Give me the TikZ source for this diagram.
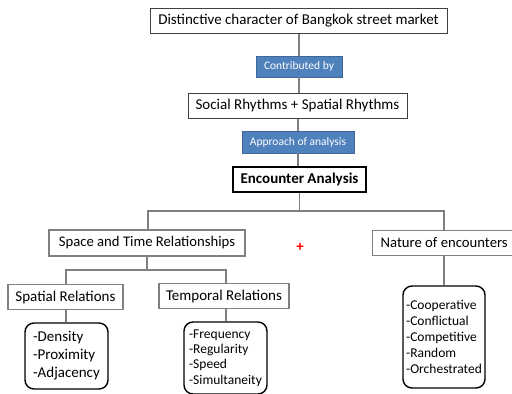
\documentclass[tikz,border=0pt]{standalone}
\usepackage{fontspec}
\setmainfont{Carlito}
\definecolor{lblue}{HTML}{4F81BD}
\definecolor{lgray}{HTML}{7F7F7F}
\begin{document}
\begin{tikzpicture}[x=1pt,y=-1pt,
  box/.style={draw=black!75, line width=1pt, fill=white, inner sep=0pt, align=center, font=\fontsize{15}{17}\selectfont},
  graybox/.style={draw=lgray, line width=1.3pt, fill=white, inner sep=0pt, align=center, font=\fontsize{15}{17}\selectfont},
  bluebox/.style={fill=lblue, draw=lblue!80!black, line width=0.4pt, text=white, inner sep=0pt, font=\fontsize{11.5}{13}\selectfont},
  listbox/.style={draw=black, line width=1.4pt, rounded corners=9pt, fill=white, inner sep=0pt, align=left},
  conn/.style={draw=lgray, line width=1.3pt}]
\useasboundingbox (0,0) rectangle (512,394);
\fill[white] (0,0) rectangle (512,394);
% nodes
\node[box, minimum width=297, minimum height=25] (top) at (298.5,20.5) {Distinctive character of Bangkok street market};
\node[bluebox, minimum width=86, minimum height=21] (contrib) at (299,66.5) {Contributed by};
\node[box, minimum width=219, minimum height=25] (social) at (297.5,105.5) {Social Rhythms + Spatial Rhythms};
\node[bluebox, minimum width=112, minimum height=22] (approach) at (298,142) {Approach of analysis};
\node[box, draw=black, line width=2pt, minimum width=133, minimum height=25, font=\fontsize{15}{17}\selectfont\bfseries] (enc) at (299.5,179.5) {Encounter Analysis};
\node[graybox, minimum width=196, minimum height=26, font=\fontsize{14.7}{16}\selectfont] (space) at (147,243) {Space and Time Relationships};
\node[graybox, minimum width=140, minimum height=25, anchor=west, font=\fontsize{14.7}{16}\selectfont] (nature) at (372,243) {\hspace*{3pt}Nature of encounters};
\node[graybox, minimum width=115, minimum height=25] (spatial) at (65.5,297) {Spatial Relations};
\node[graybox, minimum width=130, minimum height=25] (temporal) at (224,296) {Temporal Relations};
\node[listbox, minimum width=83, minimum height=66, font=\fontsize{15}{18}\selectfont] (dens) at (66.5,356) {-Density\\-Proximity\\-Adjacency};
\node[listbox, minimum width=83, minimum height=72, font=\fontsize{13.5}{15.3}\selectfont] (freq) at (225.5,358) {-Frequency\\-Regularity\\-Speed\\-Simultaneity};
\node[listbox, minimum width=82, minimum height=102, font=\fontsize{13.5}{16}\selectfont] (coop) at (444,337) {-Cooperative\\-Conflictual\\-Competitive\\-Random\\-Orchestrated};
\node[text=red, font=\fontsize{15}{15}\selectfont\bfseries] (plus) at (300,247) {+};
% connectors
\coordinate (j1) at (299.5,211);
\coordinate (j2) at (147,270);
\draw[conn] (top.south -| contrib.north) -- (contrib.north);
\draw[conn] (contrib.south) -- (social.north -| contrib.south);
\draw[conn] (social.south -| approach.north) -- (approach.north);
\draw[conn] (approach.south) -- (enc.north -| approach.south);
\draw[conn] (enc.south) -- (j1);
\draw[conn] (space.north -| 148,0) |- (j1) -| (nature.north -| 444,0);
\draw[conn] (space.south) -- (j2);
\draw[conn] (spatial.north -| 66,0) |- (j2) -| (temporal.north -| 226,0);
\draw[conn] (spatial.south -| 66,0) -- (dens.north -| 66,0);
\draw[conn] (temporal.south -| 226,0) -- (freq.north -| 226,0);
\draw[conn] (nature.south -| 444,0) -- (coop.north);
\end{tikzpicture}
\end{document}
